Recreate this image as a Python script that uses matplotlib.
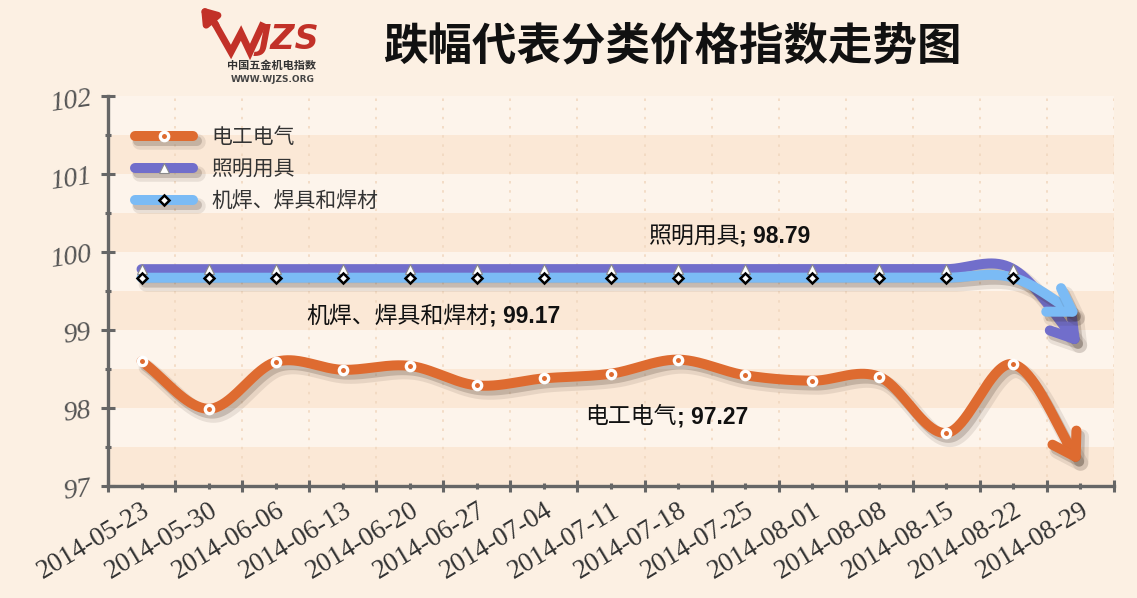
import numpy as np
import matplotlib
matplotlib.use("Agg")
import matplotlib.pyplot as plt
import matplotlib.patheffects as pe
from matplotlib.lines import Line2D
from matplotlib.legend_handler import HandlerTuple

plt.rcParams['font.family'] = ['Noto Sans CJK SC', 'DejaVu Sans']

# ---- data -------------------------------------------------------------
dates = ['2014-05-23', '2014-05-30', '2014-06-06', '2014-06-13', '2014-06-20',
         '2014-06-27', '2014-07-04', '2014-07-11', '2014-07-18', '2014-07-25',
         '2014-08-01', '2014-08-08', '2014-08-15', '2014-08-22', '2014-08-29']
electrical = [98.60, 97.99, 98.59, 98.49, 98.54, 98.29, 98.38, 98.44, 98.62,
              98.42, 98.35, 98.40, 97.68, 98.56, 97.27]
lighting = [99.78, 99.78, 99.78, 99.78, 99.78, 99.78, 99.78, 99.78, 99.78,
            99.78, 99.78, 99.78, 99.78, 99.78, 98.79]
welding = [99.67, 99.67, 99.67, 99.67, 99.67, 99.67, 99.67, 99.67, 99.67,
           99.67, 99.67, 99.67, 99.67, 99.67, 99.17]
names = ['电工电气', '照明用具', '机焊、焊具和焊材']
y_ticks = [97, 98, 99, 100, 101, 102]

title = '跌幅代表分类价格指数走势图'

# ---- style ------------------------------------------------------------
W, H = 1137, 598
BG = '#fcf0e3'
PLOT_LIGHT = '#fdf4eb'
PLOT_DARK = '#fbe8d6'
AXIS = '#666666'
ORANGE = '#de6b30'
PURPLE = '#716ecb'
BLUE = '#7bbbf5'

fig = plt.figure(figsize=(W / 100, H / 100), dpi=100, facecolor=BG)
ax = fig.add_axes([108 / W, 1 - 486 / H, (1114 - 108) / W, (486 - 96) / H])
ax.set_facecolor(PLOT_LIGHT)

n = len(dates)
x = np.arange(n)
ax.set_xlim(-0.5, n - 0.5)
ax.set_ylim(y_ticks[0], y_ticks[-1])

# alternating horizontal bands
for v in y_ticks[:-1]:
    ax.axhspan(v, v + 0.5, color=PLOT_DARK, lw=0, zorder=0)

# ---- axes / ticks -----------------------------------------------------
for s in ('top', 'right'):
    ax.spines[s].set_visible(False)
for s in ('left', 'bottom'):
    ax.spines[s].set_color(AXIS)
    ax.spines[s].set_linewidth(2.4)
    ax.spines[s].set_zorder(6)

ax.set_xticks(np.arange(-0.5, n, 1.0))
ax.set_xticklabels([])
ax.set_xticks(x, minor=True)
ax.set_xticklabels(dates, minor=True, rotation=31, ha='right', va='top',
                   rotation_mode='anchor', fontsize=19.5,
                   family='Liberation Serif', color='#333333')
ax.set_yticks(y_ticks)
ax.set_yticklabels([str(v) for v in y_ticks], fontsize=20,
                   family='Liberation Serif', style='italic',
                   color='#555555', rotation=8)
ax.set_yticks(np.arange(97.5, 102, 1.0), minor=True)

ax.tick_params(axis='x', which='major', direction='inout', length=9,
               width=2.2, color=AXIS)
ax.tick_params(axis='x', which='minor', direction='inout', length=5,
               width=2.2, color=AXIS, pad=6)
ax.tick_params(axis='y', which='major', direction='inout', length=10,
               width=2.2, color=AXIS, pad=6)
ax.tick_params(axis='y', which='minor', direction='inout', length=5,
               width=2.2, color=AXIS)

ax.grid(which='major', axis='x', color='#f1d8c0', ls=(0, (1.5, 4)), lw=1.2,
        zorder=1)
ax.set_axisbelow(True)


# ---- smoothed series --------------------------------------------------
def smooth(values, steps=40):
    y = np.asarray(values, float)
    m = np.empty(len(y))
    m[1:-1] = (y[2:] - y[:-2]) / 2
    m[0] = y[1] - y[0]
    m[-1] = y[-1] - y[-2]
    t = np.linspace(0, 1, steps + 1)
    h00 = 2 * t**3 - 3 * t**2 + 1
    h10 = t**3 - 2 * t**2 + t
    h01 = -2 * t**3 + 3 * t**2
    h11 = t**3 - t**2
    xs, ys = [], []
    for i in range(len(y) - 1):
        seg = h00 * y[i] + h10 * m[i] + h01 * y[i + 1] + h11 * m[i + 1]
        xs.append(i + t[:-1])
        ys.append(seg[:-1])
    xs.append([len(y) - 1])
    ys.append([y[-1]])
    return np.concatenate(xs), np.concatenate(ys)


def shadow():
    return [pe.SimpleLineShadow(offset=(3.5, -4.5), shadow_color='#3a2a20',
                                alpha=0.10, linewidth=LW + 4),
            pe.SimpleLineShadow(offset=(2.5, -3.5), shadow_color='#3a2a20',
                                alpha=0.20),
            pe.Normal()]


LW = 7.2
series = [
    (electrical, ORANGE, dict(marker='o', ms=6, mfc=ORANGE, mec='white', mew=2.4)),
    (lighting, PURPLE, dict(marker='^', ms=7, mfc='white', mec='#8a8a8a', mew=0.8)),
    (welding, BLUE, dict(marker='D', ms=5, mfc='white', mec='black', mew=1.8)),
]

for k, (vals, col, mk) in enumerate(series):
    z = 3 + k
    xs, ys = smooth(vals)
    cut = xs <= (n - 1) - 0.2
    ax.plot(xs[cut], ys[cut], color=col, lw=LW, solid_capstyle='round',
            solid_joinstyle='round', path_effects=shadow(), zorder=z)
    ax.annotate('', xy=(x[-1], vals[-1]), xytext=(xs[cut][-1], ys[cut][-1]),
                arrowprops=dict(arrowstyle='->,head_length=0.8,head_width=0.5',
                                mutation_scale=20, lw=LW, color=col,
                                shrinkA=0, shrinkB=0, capstyle='round',
                                joinstyle='round', path_effects=shadow()),
                zorder=z)

for k, (vals, col, mk) in enumerate(series):
    ax.plot(x[:-1], vals[:-1], ls='none', zorder=8 + k, **mk)

# ---- value labels -----------------------------------------------------
label_pos = [(7.985, 97.885), (8.91, 100.205), (5.18, 99.18)]
for (vals, col, mk), name, (lx, ly) in zip(series, names, label_pos):
    ax.text(lx, ly, name, ha='right', va='center', fontsize=16.5,
            color='#111111', zorder=12)
    ax.text(lx, ly, f'; {vals[-1]:.2f}', ha='left', va='center',
            fontsize=16.5, fontweight='bold', family='Liberation Sans',
            color='#111111', zorder=12)

# ---- legend -----------------------------------------------------------
handles = []
for vals, col, mk in series:
    body = Line2D([], [], color=col, lw=LW, solid_capstyle='round',
                  path_effects=shadow())
    mark = Line2D([], [], ls='none', **mk)
    handles.append((body, mark))
leg = ax.legend(handles, names, handler_map={tuple: HandlerTuple(ndivide=1)},
                loc='upper left', bbox_to_anchor=(135 / W, 1 - 126 / H),
                bbox_transform=fig.transFigure, frameon=False, fontsize=15,
                handlelength=2.8, handletextpad=0.85, labelspacing=0.48,
                borderpad=0, borderaxespad=0)
for t in leg.get_texts():
    t.set_color('#333333')

# ---- title and logo ---------------------------------------------------
fig.text(672 / W, 1 - 46 / H, title, ha='center', va='center', fontsize=32,
         fontweight='bold', color='#111111')


def fp(px, py):
    return (px / W, 1 - py / H)


LOGO_RED = '#c23128'
wx = [214, 231, 241, 250, 262]
wy = [22, 52, 33, 52, 26]
fig.add_artist(Line2D([p / W for p in wx], [1 - p / H for p in wy],
                      color=LOGO_RED, lw=5, solid_joinstyle='miter'))
fig.add_artist(matplotlib.patches.FancyArrowPatch(
    fp(216, 25), fp(201, 7), transform=fig.transFigure,
    arrowstyle='-|>,head_length=8,head_width=5.5', mutation_scale=1,
    color=LOGO_RED, lw=5, shrinkA=0, shrinkB=0))
fig.text(*fp(259, 40), 'JZS', ha='left', va='center', fontsize=24,
         fontweight='bold', style='italic', color=LOGO_RED,
         family='DejaVu Sans')
fig.text(*fp(272, 66), '中国五金机电指数', ha='center', va='center',
         fontsize=8, fontweight='bold', color='#333333')
fig.text(*fp(273, 80), 'WWW.WJZS.ORG', ha='center', va='center',
         fontsize=6.5, fontweight='bold', color='#444444', family='DejaVu Sans')

fig.savefig('out.png', dpi=100, facecolor=BG)
